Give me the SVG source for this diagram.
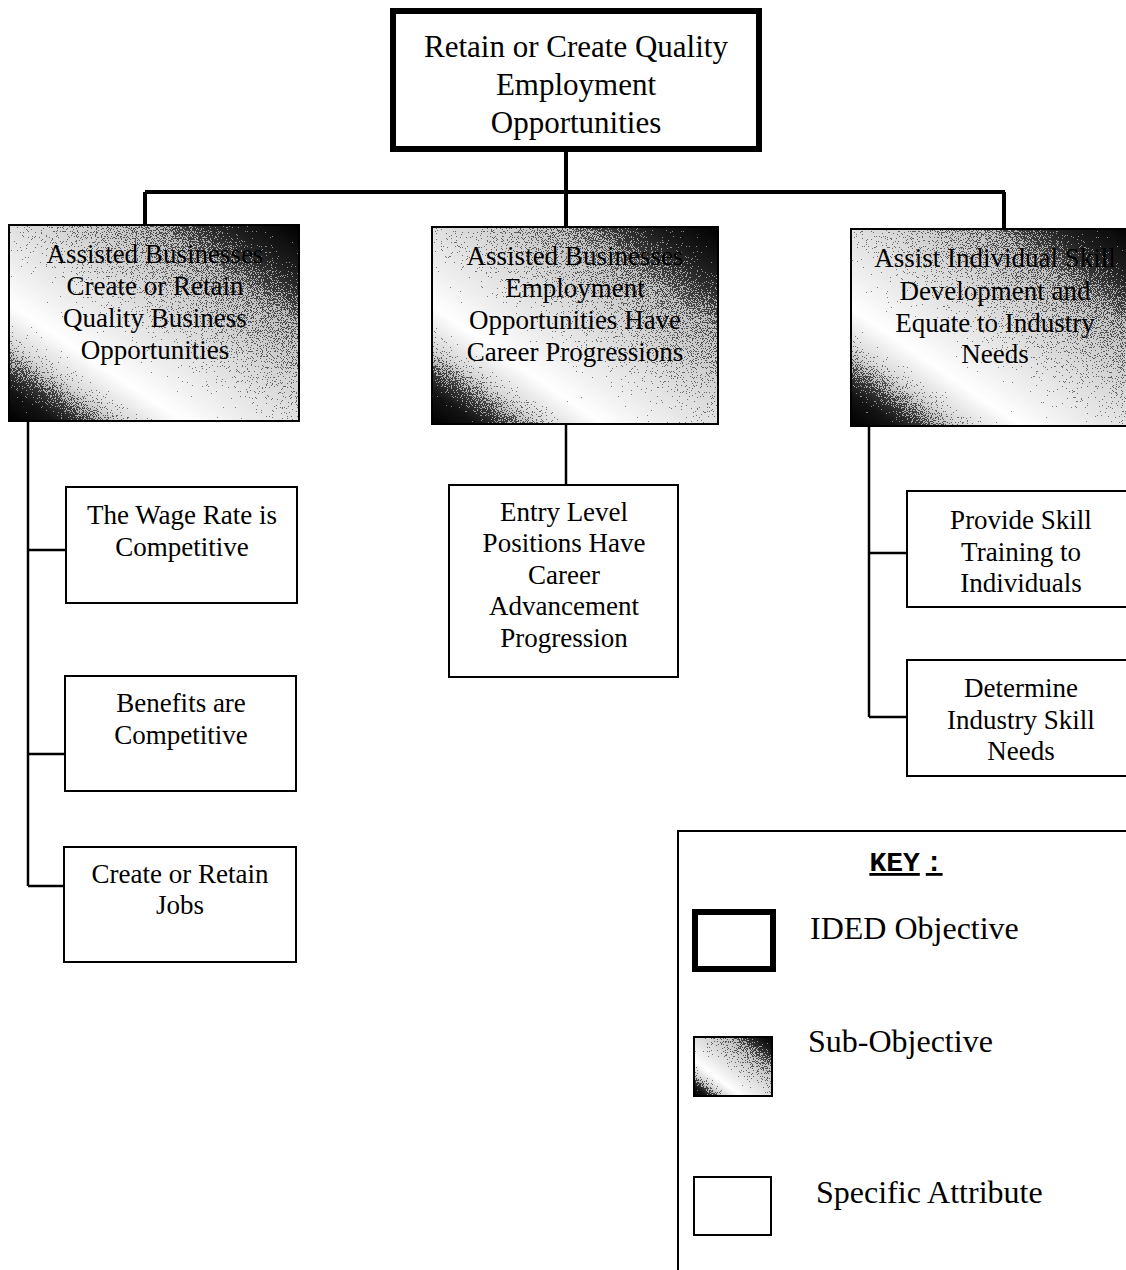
<svg xmlns="http://www.w3.org/2000/svg" width="1126" height="1270" viewBox="0 0 1126 1270">
  <style>
    .t { font-family: "Liberation Serif", "Times New Roman", serif; fill: #000; text-anchor: middle; font-size: 27px; }
    .lg { font-family: "Liberation Serif", "Times New Roman", serif; fill: #000; font-size: 32px; }
    .obj { fill: #fff; stroke: #000; stroke-width: 6; }
    .subfill { fill: url(#shade); filter: url(#dither); }
    .edge { fill: none; stroke: #000; stroke-width: 2; }
    .attr { fill: #fff; stroke: #000; stroke-width: 2; }
    .line { fill: none; stroke: #000; stroke-width: 2.5; }
    .bold { fill: none; stroke: #000; stroke-width: 4; }
  </style>
  <defs>
    <!-- diagonal shading used for sub-objectives: dark corners, light band -->
    <linearGradient id="shade" x1="0" y1="1" x2="1" y2="0">
      <stop offset="0" stop-color="#000"/>
      <stop offset="0.08" stop-color="#222"/>
      <stop offset="0.2" stop-color="#bbb"/>
      <stop offset="0.3" stop-color="#fff"/>
      <stop offset="0.4" stop-color="#e2e2e2"/>
      <stop offset="0.55" stop-color="#bababa"/>
      <stop offset="0.74" stop-color="#8a8a8a"/>
      <stop offset="0.88" stop-color="#333"/>
      <stop offset="1" stop-color="#000"/>
    </linearGradient>
    <!-- halftone-style grain on the shading, softened by mixing with the smooth ramp -->
    <filter id="dither" x="0" y="0" width="1" height="1" color-interpolation-filters="sRGB">
      <feTurbulence type="fractalNoise" baseFrequency="1.2" numOctaves="1" seed="7" result="noise"/>
      <feColorMatrix in="noise" type="matrix" values="1 0 0 0 0  1 0 0 0 0  1 0 0 0 0  0 0 0 0 1" result="grey"/>
      <feComposite in="SourceGraphic" in2="grey" operator="arithmetic" k1="0" k2="1" k3="1.6" k4="-0.8" result="mix"/>
      <feComponentTransfer in="mix" result="dots">
        <feFuncR type="discrete" tableValues="0 1"/>
        <feFuncG type="discrete" tableValues="0 1"/>
        <feFuncB type="discrete" tableValues="0 1"/>
        <feFuncA type="linear" slope="0" intercept="1"/>
      </feComponentTransfer>
      <feComposite in="dots" in2="SourceGraphic" operator="arithmetic" k1="0" k2="0.45" k3="0.55" k4="0"/>
    </filter>
  </defs>

  <rect width="1126" height="1270" fill="#fff"/>

  <!-- connectors -->
  <g id="connectors">
    <path class="bold" d="M566 152 V192 M145 192 H1005 M145 192 V225 M566 192 V227 M1004 192 V228"/>
    <path class="line" d="M28 421 V886 M28 550 H65 M28 754 H64 M28 886 H63"/>
    <path class="line" d="M566 424 V484"/>
    <path class="line" d="M869 426 V717 M869 553 H906 M869 717 H906"/>
  </g>

  <!-- top objective -->
  <g id="objective">
    <rect class="obj" x="393" y="11" width="366" height="138"/>
    <text class="t" style="font-size:31px"><tspan x="576" y="57">Retain or Create Quality</tspan><tspan x="576" y="95">Employment</tspan><tspan x="576" y="133">Opportunities</tspan></text>
  </g>

  <!-- sub-objectives -->
  <g id="sub-business">
    <rect class="subfill" x="9" y="225" width="290" height="196"/>
    <rect class="edge" x="9" y="225" width="290" height="196"/>
    <text class="t"><tspan x="155" y="263">Assisted Businesses</tspan><tspan x="155" y="295">Create or Retain</tspan><tspan x="155" y="327">Quality Business</tspan><tspan x="155" y="359">Opportunities</tspan></text>
  </g>
  <g id="sub-career">
    <rect class="subfill" x="432" y="227" width="286" height="197"/>
    <rect class="edge" x="432" y="227" width="286" height="197"/>
    <text class="t"><tspan x="575" y="265">Assisted Businesses</tspan><tspan x="575" y="297">Employment</tspan><tspan x="575" y="329">Opportunities Have</tspan><tspan x="575" y="361">Career Progressions</tspan></text>
  </g>
  <g id="sub-skill">
    <rect class="subfill" x="851" y="229" width="285" height="197"/>
    <rect class="edge" x="851" y="229" width="285" height="197"/>
    <text class="t"><tspan x="995" y="267">Assist Individual Skill</tspan><tspan x="995" y="300">Development and</tspan><tspan x="995" y="332">Equate to Industry</tspan><tspan x="995" y="363">Needs</tspan></text>
  </g>

  <!-- specific attributes -->
  <g id="attr-wage">
    <rect class="attr" x="66" y="487" width="231" height="116"/>
    <text class="t"><tspan x="182" y="524">The Wage Rate is</tspan><tspan x="182" y="556">Competitive</tspan></text>
  </g>
  <g id="attr-benefits">
    <rect class="attr" x="65" y="676" width="231" height="115"/>
    <text class="t"><tspan x="181" y="712">Benefits are</tspan><tspan x="181" y="744">Competitive</tspan></text>
  </g>
  <g id="attr-jobs">
    <rect class="attr" x="64" y="847" width="232" height="115"/>
    <text class="t"><tspan x="180" y="883">Create or Retain</tspan><tspan x="180" y="914">Jobs</tspan></text>
  </g>
  <g id="attr-entry">
    <rect class="attr" x="449" y="485" width="229" height="192"/>
    <text class="t"><tspan x="564" y="521">Entry Level</tspan><tspan x="564" y="552">Positions Have</tspan><tspan x="564" y="584">Career</tspan><tspan x="564" y="615">Advancement</tspan><tspan x="564" y="647">Progression</tspan></text>
  </g>
  <g id="attr-training">
    <rect class="attr" x="907" y="491" width="225" height="116"/>
    <text class="t"><tspan x="1021" y="529">Provide Skill</tspan><tspan x="1021" y="561">Training to</tspan><tspan x="1021" y="592">Individuals</tspan></text>
  </g>
  <g id="attr-needs">
    <rect class="attr" x="907" y="660" width="225" height="116"/>
    <text class="t"><tspan x="1021" y="697">Determine</tspan><tspan x="1021" y="729">Industry Skill</tspan><tspan x="1021" y="760">Needs</tspan></text>
  </g>

  <!-- legend -->
  <g id="key">
    <rect x="678" y="831" width="460" height="450" fill="#fff" stroke="#000" stroke-width="2"/>
    <text x="906" y="871" font-family="'Liberation Mono', 'Courier New', monospace" font-weight="bold" font-size="28" text-anchor="middle" text-decoration="underline">KEY<tspan dx="6">:</tspan></text>
    <rect class="obj" x="695" y="912" width="78" height="57"/>
    <text class="lg" x="810" y="939">IDED Objective</text>
    <rect class="subfill" x="694" y="1037" width="78" height="59"/>
    <rect class="edge" x="694" y="1037" width="78" height="59"/>
    <text class="lg" x="808" y="1052">Sub-Objective</text>
    <rect class="attr" x="694" y="1177" width="77" height="58"/>
    <text class="lg" x="816" y="1203">Specific Attribute</text>
  </g>
</svg>
